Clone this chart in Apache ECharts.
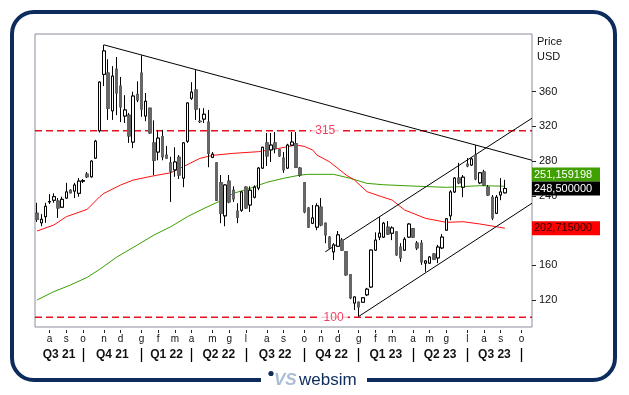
<!DOCTYPE html>
<html><head><meta charset="utf-8">
<script src="https://cdn.jsdelivr.net/npm/echarts@6/dist/echarts.min.js"></script>
<style>html,body{margin:0;padding:0;background:#fff}#c{width:629px;height:395px}</style>
</head><body><div id="c"></div>
<script>
// ---- data ----
const startWeek = '2021-07-16';   // Friday of the first weekly candle
const weekCount = 119;            // weeks shown on the axis
const monthLetters = ['g','f','m','a','m','g','l','a','s','o','n','d'];
const quarterLabels = ['Q3 21','Q4 21','Q1 22','Q2 22','Q3 22','Q4 22','Q1 23','Q2 23','Q3 23'];
const priceTicks = [120,160,200,240,280,320,360];
// weekly candles [open, close, low, high]
const ohlc = [
[220,213,210,232],[209,213,205,219],[216,228,209,232],[233,233.5,230.6,242],[235,239,232,243],
[234,226,214.5,237.5],[227,236,226,239],[237.5,244.5,236.5,255],[246.5,243.5,243,247.5],[245.5,252.5,237.5,255],
[243,257,239,260.5],[257,257.5,254.8,259.4],[265,262,260.5,267.5],[262,280,261,281],[283.5,303,282.5,304.5],
[315,371,313,372],[380,407,366.5,414],[381.5,341,327.5,397.5],[338,378,327.5,389.5],[386,358.5,333,400],
[366.5,342.5,325,377],[332,339,324,356],[333,309,301,335.5],[302,355,295,360],[357,350.5,348,372],
[381.5,340,331,402],[332,349,326,358.5],[341,312.5,311.5,341.5],[301,281,264,327],[290.5,306.5,281,316],
[308,285,281,316],[287,283.5,282.5,297.5],[278,268.5,233,285],[270,279,262,296],[284.5,264,259.5,287],
[260.5,301,250,302],[303,347,301,347.5],[352.5,359.5,350.5,371],[362,340,327.5,385],[326,325.5,324,341],
[328.5,334,324,341],[325,289,273,339],[284.5,288,283.5,290.5],[278,235,234.5,279],[255,220,208.5,264],
[217,252.5,205,253],[257,233,231.5,264],[246.5,236.5,233,251],[222.5,215.5,208.5,231.5],[223.5,244.5,221.5,245.5],
[250,226,225,251],[229.5,246.5,221.5,251],[238.5,250,237,252],[249,272,246.5,273],[272,296,271,296.5],
[301,286,274.5,312.5],[293,298.5,279,312.5],[301,295,289,313.5],[293,286,285,294],[283.5,270,266.5,290.5],
[272,298.5,271,300],[298.5,302,297.5,313.5],[300,273,272,313.5],[272,264,262,273],[255,221.5,220,256],
[226,204,203,227],[208.5,214.5,207.5,229.5],[204,228.5,200.5,231.5],[227,206.5,205,237.5],[208.5,195,185.5,209],
[192.5,180,179,193.5],[175.5,183.5,166,185.5],[182,195,181,199.5],[189,177.5,176.5,191.5],[175.5,149,148,176],
[149,122.5,121,149.5],[116.5,123.5,108.5,124],[117.5,112,101,118],[117.5,122.5,117,123],[126,132.5,124.5,134],
[135,177.5,134,178],[177.5,189,176.5,198],[192.5,197,189,215.5],[192.5,208.5,191.5,210],[204,196,195,211],
[197,203,189,205],[198.5,172,171,199],[181,168.5,164,185.5],[177.5,190,176.5,192.5],[192.5,207.5,191.5,208.5],
[202,192.5,191.5,203],[185.5,180,177.5,188],[185.5,164,160.5,189],[162.5,165,152.5,166],[162.5,169.5,161.5,170.5],
[173,167,166,174],[168.5,181,162.5,183.5],[180,192.5,178.8,196],[200.5,213.5,199.5,214.5],[217,244.5,212,246.5],
[244.5,260.5,243.5,261.5],[260.5,255,253.5,278],[250,261.5,238.5,264],[276.5,274.5,273,283.5],[275.5,282.5,274.5,284.5],
[287,259.5,258,298.5],[255,266.5,253.5,267.5],[267.5,252.5,251.5,270],[250,241,240,252.5],[238.5,214.5,212,241],
[220,238.5,219,241],[241,244.5,235,260.5],[243.5,248.5,243,258.5]
];
// moving averages: [week index, value]
const maRed = [[0,199.5],[4,206.4],[7,216],[12,224.5],[15,239],[16,242.9],[20,252.5],[23,258.2],[28,263.2],
[32,266.6],[35,273.6],[39,283.2],[42,286.7],[47,289],[53,290.9],[58,294.8],[62,298.6],[64,297],[66,292.8],
[67,287],[70,279.3],[71,275.5],[74,264],[76,258.2],[79,244.8],[82.5,239],[85,235.2],[88,223.7],[90,219.9],
[93,214.1],[98,209.5],[102,210.2],[106,207.6],[110,204.4],[112,202.715]];
const maGreen = [[0,120],[4,129.6],[8,137.3],[12,146.1],[15,155.4],[19,169.2],[24,183.4],[28,194.9],[32,204.4],
[36,216],[40,225.6],[44,234.4],[47,242.9],[51,248.7],[55,255.6],[59,260.2],[63,264],[65,264.8],[71,264.8],
[75,260.2],[79,254.4],[83,252.8],[90,251.3],[98,249.8],[106,251.7],[112,251.159198]];
const resistanceLine = [[16,414],[118.5,281]];
const channelUpper = [[69,175.5],[118.5,329.5]];
const channelLower = [[77,101],[118.5,231.5]];
const levels = [315, 100];
const lastClose = 248.5, lastGreen = 251.159198, lastRed = 202.715;

// ---- derived axis content ----
const categories = [];
const d0 = new Date(startWeek + 'T00:00:00Z');
for (let i = 0; i < weekCount; i++) categories.push(new Date(d0.getTime() + i * 7 * 864e5).toISOString().slice(0, 10));
const monthTicks = [], monthText = {};
for (let i = 1; i < weekCount; i++) {
  const m = categories[i].slice(5, 7);
  if (m !== categories[i - 1].slice(5, 7)) { monthTicks.push(i); monthText[i] = monthLetters[+m - 1]; }
}
const quarterBounds = monthTicks.filter(i => [1,4,7,10].includes(+categories[i].slice(5,7)));
const qEdges = [-0.5].concat(quarterBounds);
const quarterCenters = quarterLabels.map((q, k) => (qEdges[k] + qEdges[k + 1]) / 2);
const bodies = ohlc.map(d => [d[0], d[1], Math.min(d[0], d[1]), Math.max(d[0], d[1])]);
const fmt = v => v.toFixed(6).replace('.', ',');

const FONT = 'Liberation Sans, Arial, sans-serif';
const chart = echarts.init(document.getElementById('c'), null, {renderer: 'canvas'});
const line = (data, color, width, type, z) => ({type: 'line', xAxisIndex: 1, data, symbol: 'none', silent: true,
  lineStyle: {color, width, type: type || 'solid'}, z: z || 3, animation: false, clip: true});

chart.setOption({
  animation: false,
  backgroundColor: '#fff',
  grid: {left: 35, top: 34, width: 497, height: 293, show: true, borderColor: '#8c8c9c', borderWidth: 1, backgroundColor: '#fff'},
  xAxis: [
    {type: 'category', data: categories, show: false, boundaryGap: true, axisLine: {onZero: false}},
    {type: 'value', min: -0.5, max: 118.5, offset: 3, position: 'bottom',
     axisLine: {show: false, onZero: false}, splitLine: {show: false},
     axisTick: {show: true, length: 3, customValues: monthTicks, lineStyle: {color: '#222'}},
     axisLabel: {show: true, customValues: monthTicks, margin: 4, fontSize: 10, fontFamily: FONT, color: '#111',
       formatter: v => monthText[v] || ''}},
    {type: 'value', min: -0.5, max: 118.5, offset: 21, position: 'bottom',
     axisLine: {show: false, onZero: false}, splitLine: {show: false},
     axisTick: {show: true, length: 14, customValues: quarterBounds, lineStyle: {color: '#000', width: 1.3}},
     axisLabel: {show: true, customValues: quarterCenters, margin: 1, fontSize: 12, fontWeight: 'bold', fontFamily: FONT, color: '#111',
       formatter: (v) => { const k = quarterCenters.indexOf(v); return k >= 0 ? quarterLabels[k] : ''; }}}
  ],
  yAxis: [{type: 'value', position: 'right', min: 88.9, max: 426.5, scale: true,
    axisLine: {show: false, onZero: false}, splitLine: {show: false},
    axisTick: {show: true, length: 4, customValues: priceTicks, lineStyle: {color: '#222'}},
    axisLabel: {show: true, customValues: priceTicks, margin: 7, fontSize: 11, fontFamily: FONT, color: '#111'}}],
  series: [
    line(maGreen, '#3c9e00', 1, 'solid', 2),
    line(maRed, '#ff1010', 1, 'solid', 2),
    line([[-0.5, levels[0]], [118.5, levels[0]]], '#e8101e', 1.5, [7, 4], 2),
    line([[-0.5, levels[1]], [118.5, levels[1]]], '#e8101e', 1.5, [7, 4], 2),
    line(resistanceLine, '#000', 1, 'solid', 4),
    line(channelUpper, '#000', 1, 'solid', 4),
    line(channelLower, '#000', 1, 'solid', 4),
    {type: 'candlestick', xAxisIndex: 0, data: ohlc, barWidth: 3, z: 5, silent: true,
     itemStyle: {color: '#000', color0: '#000', borderColor: '#000', borderColor0: '#000', borderWidth: 1}},
    {type: 'candlestick', xAxisIndex: 0, data: bodies, barWidth: 3, z: 6, silent: true,
     itemStyle: {color: '#fff', color0: '#666', borderColor: '#000', borderColor0: '#666', borderWidth: 1}},
    {type: 'scatter', xAxisIndex: 1, symbolSize: 0, z: 7, silent: true,
     data: [[69, levels[0]], [71, levels[1]]],
     label: {show: true, position: 'inside', formatter: p => String(p.value[1]), color: '#f0103a', fontSize: 12,
       fontFamily: FONT, backgroundColor: '#fff', padding: [0, 4]}}
  ]
});

function tag(y, text, bg, fg) {
  return [{type: 'rect', shape: {x: 532, y: y - 7, width: 68, height: 14}, style: {fill: bg}, z: 20},
          {type: 'text', x: 534, y: y, style: {text, fill: fg, font: '11px ' + FONT, verticalAlign: 'middle'}, z: 21}];
}
const yClose = chart.convertToPixel({yAxisIndex: 0}, lastClose);
const yGreen = Math.min(chart.convertToPixel({yAxisIndex: 0}, lastGreen), yClose - 14);
const yRed = chart.convertToPixel({yAxisIndex: 0}, lastRed);

const NAVY = '#0d2c5c';
chart.setOption({graphic: [
  {type: 'rect', shape: {x: 12, y: 12, width: 603, height: 368, r: 22}, style: {fill: 'none', stroke: NAVY, lineWidth: 4}, z: 10},
  {type: 'rect', shape: {x: 261, y: 370, width: 106, height: 22}, style: {fill: '#fff'}, z: 11},
  {type: 'circle', shape: {cx: 271, cy: 373.5, r: 2.6}, style: {fill: NAVY}, z: 12},
  {type: 'text', x: 274, y: 380, style: {text: 'VS', fill: '#a9bdd6', font: 'italic bold 17px ' + FONT, verticalAlign: 'middle'}, z: 12},
  {type: 'text', x: 299, y: 380, style: {text: 'websim', fill: NAVY, font: '17px ' + FONT, verticalAlign: 'middle'}, z: 12},
  {type: 'text', x: 537, y: 42, style: {text: 'Price', fill: '#111', font: '11px ' + FONT, verticalAlign: 'middle'}, z: 12},
  {type: 'text', x: 537, y: 57, style: {text: 'USD', fill: '#111', font: '11px ' + FONT, verticalAlign: 'middle'}, z: 12},
  ...tag(yGreen, fmt(lastGreen), '#3fa000', '#fff'),
  ...tag(yClose, fmt(lastClose), '#000', '#fff'),
  ...tag(yRed, fmt(lastRed), '#ff0000', '#300')
]});
</script></body></html>
